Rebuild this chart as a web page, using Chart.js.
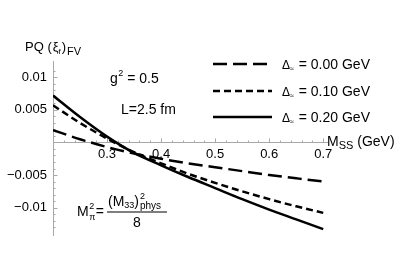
<!DOCTYPE html>
<html>
<head>
<meta charset="utf-8">
<script src="https://cdn.jsdelivr.net/npm/chart.js@4.4.1/dist/chart.umd.min.js"></script>
<style>
html,body{margin:0;padding:0;background:#fff;}
#wrap{width:407px;height:272px;position:relative;}
</style>
</head>
<body>
<div id="wrap"><canvas id="c" width="407" height="272"></canvas></div>
<script>
// M_SS values (GeV)
const mss = [0.2, 0.25, 0.3, 0.35, 0.4, 0.45, 0.5, 0.55, 0.6, 0.65, 0.7];
// PQ (xi_f)_FV for each Delta
const delta000 = [0.0019, 0.0005, -0.0007, -0.0017, -0.0025, -0.0032, -0.0038, -0.0044, -0.0050, -0.0055, -0.0060];
const delta010 = [0.0057, 0.0030, 0.0006, -0.0015, -0.0032, -0.0048, -0.0062, -0.0075, -0.0087, -0.0098, -0.0108];
const delta020 = [0.0072, 0.0039, 0.0009, -0.0016, -0.0035, -0.0053, -0.0070, -0.0087, -0.0103, -0.0118, -0.0133];
const seriesLabels = ['0.00 GeV', '0.10 GeV', '0.20 GeV'];
const xTickLabels = ['0.3', '0.4', '0.5', '0.6', '0.7'];
const yTickLabels = {'10': '0.01', '5': '0.005', '-5': '\u22120.005', '-10': '\u22120.01'};

const FONT = '"Liberation Sans", Arial, Helvetica, sans-serif';
const AXIS = '#a8a8a8';
const dashes = [[14, 6], [7, 4], []];

function pts(ys) { return mss.map((x, i) => ({x: x, y: ys[i]})); }

const ds = [delta000, delta010, delta020].map((ys, i) => ({
  label: seriesLabels[i],
  data: pts(ys),
  borderColor: '#000',
  borderWidth: 2.5,
  borderDash: dashes[i],
  pointRadius: 0,
  fill: false,
  cubicInterpolationMode: 'monotone'
}));

const tickMarks = {
  id: 'tickMarks',
  beforeDatasetsDraw(chart) {
    const ctx = chart.ctx, xs = chart.scales.x, ys = chart.scales.y;
    const y0 = Math.round(ys.getPixelForValue(0)) + 0.5;
    const x0 = Math.round(chart.chartArea.left) + 0.5;
    ctx.save();
    ctx.strokeStyle = AXIS; ctx.lineWidth = 1;
    ctx.beginPath();
    xs.ticks.forEach(t => {
      const k = Math.round(t.value * 100);
      if (Math.abs(t.value * 100 - k) > 1e-6 || k <= 20) return;
      const p = Math.round(xs.getPixelForValue(t.value)) + 0.5;
      const len = (k % 10 === 0) ? 4 : 2;
      ctx.moveTo(p, y0); ctx.lineTo(p, y0 - len);
    });
    ys.ticks.forEach(t => {
      const k = Math.round(t.value * 1000);
      if (Math.abs(t.value * 1000 - k) > 1e-6 || k === 0) return;
      const p = Math.round(ys.getPixelForValue(t.value)) + 0.5;
      const len = (k % 5 === 0) ? 4 : 2;
      ctx.moveTo(x0, p); ctx.lineTo(x0 + len, p);
    });
    ctx.stroke();
    ctx.restore();
  }
};

function txt(ctx, s, x, y, size, style) {
  ctx.font = (style ? style + ' ' : '') + size + 'px ' + FONT;
  ctx.fillText(s, x, y);
  return x + ctx.measureText(s).width;
}

const annotations = {
  id: 'annotations',
  afterDraw(chart) {
    const ctx = chart.ctx;
    ctx.save();
    ctx.fillStyle = '#000';
    ctx.textBaseline = 'alphabetic';
    ctx.textAlign = 'left';
    // y label
    let x = txt(ctx, 'PQ (', 25, 51, 13);
    x = txt(ctx, '\u03BE', x + 1, 51, 13);
    x = txt(ctx, 'f', x, 54, 8);
    x = txt(ctx, ')', x + 1, 51, 13);
    txt(ctx, 'FV', x + 1, 55, 11);
    // x label
    x = txt(ctx, 'M', 327, 146, 14);
    x = txt(ctx, 'SS', x, 149, 11);
    txt(ctx, ' (GeV)', x, 146, 14);
    // g^2
    x = txt(ctx, 'g', 110, 83, 14);
    x = txt(ctx, '2', x + 0.5, 76, 9);
    txt(ctx, ' = 0.5', x, 83, 14);
    // L
    txt(ctx, 'L=2.5 fm', 121, 114, 14);
    // legend
    const rows = [64, 91, 117];
    rows.forEach((ry, i) => {
      ctx.save();
      ctx.strokeStyle = '#000'; ctx.lineWidth = 2.5;
      ctx.setLineDash(dashes[i]);
      ctx.beginPath(); ctx.moveTo(213, ry); ctx.lineTo(272, ry); ctx.stroke();
      ctx.restore();
      let lx = txt(ctx, '\u0394', 282, ry + 5, 12);
      lx = txt(ctx, '\u2248', lx, ry + 7, 7);
      txt(ctx, ' = ' + seriesLabels[i], lx + 1, ry + 5, 14);
    });
    // formula
    x = txt(ctx, 'M', 77, 216, 14);
    txt(ctx, '2', x + 0.5, 209, 9);
    txt(ctx, '\u03C0', x + 0.5, 220, 9);
    txt(ctx, '=', x + 7, 216, 14);
    ctx.fillRect(107, 211.5, 60, 1);
    let nx = txt(ctx, '(M', 108, 206, 14);
    nx = txt(ctx, '33', nx, 208, 9);
    nx = txt(ctx, ')', nx, 206, 14);
    txt(ctx, '2', nx + 1, 199, 9);
    txt(ctx, 'phys', nx + 1, 209, 10);
    txt(ctx, '8', 133, 227, 14);
    ctx.restore();
  }
};

new Chart(document.getElementById('c'), {
  type: 'line',
  data: {datasets: ds},
  options: {
    responsive: false,
    animation: false,
    devicePixelRatio: 1,
    layout: {padding: {left: 0, top: 61, right: 80, bottom: 37}},
    plugins: {legend: {display: false}, tooltip: {enabled: false}},
    scales: {
      x: {
        type: 'linear',
        position: {y: 0},
        min: 0.2, max: 0.707,
        afterFit(s) { s.height = 0; },
        afterBuildTicks(s) {
          const t = [];
          for (let k = 20; k <= 70; k += 2) t.push({value: k / 100});
          s.ticks = t;
        },
        grid: {display: false, drawTicks: false, tickLength: 0},
        border: {display: true, color: AXIS, width: 1},
        ticks: {
          autoSkip: false, maxRotation: 0, padding: 4,
          color: '#000', font: {family: FONT, size: 13},
          callback(v) {
            const k = Math.round(v * 100);
            if (Math.abs(v * 100 - k) > 1e-6 || k % 10 !== 0) return '';
            const idx = k / 10 - 3;
            return (idx >= 0 && idx < xTickLabels.length) ? xTickLabels[idx] : '';
          }
        }
      },
      y: {
        type: 'linear',
        min: -0.0142, max: 0.0125,
        afterFit(s) { s.width = 53; },
        grid: {display: false, drawTicks: false, tickLength: 0},
        border: {display: true, color: AXIS, width: 1},
        ticks: {
          stepSize: 0.001, autoSkip: false, padding: 6,
          color: '#000', font: {family: FONT, size: 13},
          callback(v) {
            const k = Math.round(v * 1000);
            if (Math.abs(v * 1000 - k) > 1e-6) return '';
            return yTickLabels[String(k)] || '';
          }
        }
      }
    }
  },
  plugins: [tickMarks, annotations]
});
</script>
</body>
</html>
